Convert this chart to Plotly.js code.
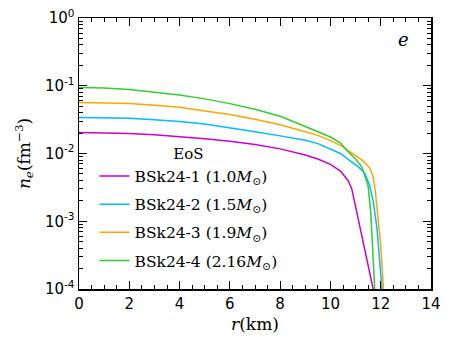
<!DOCTYPE html>
<html>
<head>
<meta charset="utf-8">
<script src="https://cdn.plot.ly/plotly-3.0.1.min.js"></script>
<style>
  html, body { margin: 0; padding: 0; background: #fff; }
  #plot { width: 451px; height: 347px; }
</style>
</head>
<body>
<div id="plot"></div>
<script>
// electron number density profiles
const r1 = [0, 1, 2, 3, 4, 5, 6, 7, 8, 9, 9.5, 10, 10.4, 10.7, 10.85, 11, 11.2, 11.4, 11.6, 11.7];
const n1 = [0.0205, 0.0203, 0.0197, 0.0189, 0.0178, 0.0165, 0.0151, 0.0136, 0.0117, 0.0095, 0.0083, 0.0069, 0.0055, 0.0040, 0.0030, 0.00166, 0.00074, 0.00033, 0.00015, 0.0001];

const r2 = [0, 1, 2, 3, 4, 5, 6, 7, 8, 9, 9.5, 10, 10.4, 10.8, 11.1, 11.35, 11.55, 11.7, 11.85, 12.05];
const n2 = [0.034, 0.0337, 0.033, 0.0315, 0.0297, 0.0272, 0.0242, 0.021, 0.0182, 0.0157, 0.0140, 0.0117, 0.0100, 0.0077, 0.0064, 0.0052, 0.0035, 0.0020, 0.0008, 0.0001];

const r3 = [0, 1, 2, 3, 4, 5, 6, 7, 8, 9, 9.5, 10, 10.4, 10.7, 11, 11.3, 11.58, 11.7, 11.78, 11.9, 12.0, 12.11];
const n3 = [0.0565, 0.056, 0.0545, 0.0515, 0.048, 0.0425, 0.0375, 0.032, 0.0265, 0.021, 0.0185, 0.0155, 0.0132, 0.0111, 0.0094, 0.0078, 0.006, 0.0045, 0.0029, 0.0011, 0.00045, 0.0001];

const r4 = [0, 1, 2, 3, 4, 5, 6, 7, 8, 9, 9.5, 10, 10.4, 10.65, 11, 11.25, 11.5, 11.6, 11.68, 11.76];
const n4 = [0.094, 0.0925, 0.088, 0.081, 0.073, 0.064, 0.0545, 0.045, 0.0355, 0.025, 0.0212, 0.0175, 0.0143, 0.0112, 0.0083, 0.0063, 0.0033, 0.0014, 0.0004, 0.0001];

const names = [
  "BSk24-1 (1.0<i>M</i><sub>⊙</sub>)",
  "BSk24-2 (1.5<i>M</i><sub>⊙</sub>)",
  "BSk24-3 (1.9<i>M</i><sub>⊙</sub>)",
  "BSk24-4 (2.16<i>M</i><sub>⊙</sub>)"
];
const colors = ["#cc00cc", "#00bbff", "#ffa500", "#33cc33"];

const yTickVals = [1e-4, 1e-3, 1e-2, 1e-1, 1];
const yTickText = ["10<sup>-4</sup>", "10<sup>-3</sup>", "10<sup>-2</sup>", "10<sup>-1</sup>", "10<sup>0</sup>"];

const xs = [r1, r2, r3, r4];
const ys = [n1, n2, n3, n4];

const traces = xs.map((x, i) => ({
  x: x,
  y: ys[i],
  type: "scatter",
  mode: "lines",
  name: names[i],
  legendgroup: "g" + i,
  line: { color: colors[i], width: 1.5 }
}));

const tickFont = { family: "DejaVu Sans", size: 15, color: "#000" };
const serif = "DejaVu Serif";

const layout = {
  width: 451,
  height: 347,
  margin: { l: 79, r: 20, t: 18, b: 58 },
  paper_bgcolor: "#fff",
  plot_bgcolor: "#fff",
  showlegend: true,
  legend: {
    x: 0.044, y: 0.55, xanchor: "left", yanchor: "top",
    bgcolor: "rgba(0,0,0,0)",
    font: { family: serif, size: 15.5, color: "#000" },
    title: { text: "EoS", side: "top center", font: { family: serif, size: 15, color: "#000" } },
    tracegroupgap: 5
  },
  xaxis: {
    range: [0, 14],
    dtick: 2,
    showgrid: false,
    zeroline: false,
    showline: true,
    linecolor: "#000",
    linewidth: 1.5,
    mirror: "allticks",
    ticks: "inside",
    ticklen: 8,
    tickwidth: 1.2,
    tickcolor: "#000",
    tickfont: tickFont,
    minor: { ticks: "inside", dtick: 0.5, ticklen: 4, tickwidth: 1, tickcolor: "#000", showgrid: false },
    title: { text: "<i>r</i>(km)", font: { family: serif, size: 17, color: "#000" }, standoff: 6 }
  },
  yaxis: {
    type: "log",
    range: [-4, 0],
    tickmode: "array",
    tickvals: yTickVals,
    ticktext: yTickText,
    showgrid: false,
    zeroline: false,
    showline: true,
    linecolor: "#000",
    linewidth: 1.5,
    mirror: "allticks",
    ticks: "inside",
    ticklen: 8,
    tickwidth: 1.2,
    tickcolor: "#000",
    tickfont: tickFont,
    minor: { ticks: "inside", dtick: "D1", ticklen: 4, tickwidth: 1, tickcolor: "#000", showgrid: false },
    title: { text: "<i>n</i><sub><i>e</i></sub>(fm<sup>−3</sup>)", font: { family: serif, size: 17, color: "#000" }, standoff: 10 }
  },
  annotations: [
    {
      text: "<i>e</i>", xref: "paper", yref: "paper",
      x: 0.943, y: 0.965, showarrow: false,
      font: { family: serif, size: 18, color: "#000" }
    }
  ]
};

Plotly.newPlot("plot", traces, layout, { displayModeBar: false, staticPlot: true });
</script>
</body>
</html>
